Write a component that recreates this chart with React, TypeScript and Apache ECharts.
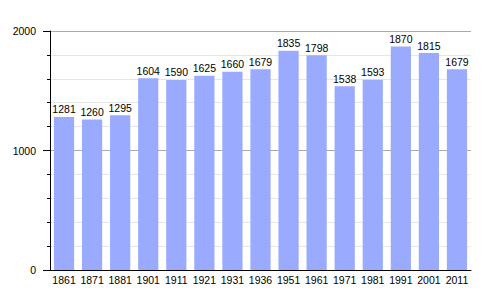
import React, { useEffect, useRef } from "react";
import * as echarts from "echarts";

const years = ["1861", "1871", "1881", "1901", "1911", "1921", "1931", "1936", "1951", "1961", "1971", "1981", "1991", "2001", "2011"];
const population = [1281, 1260, 1295, 1604, 1590, 1625, 1660, 1679, 1835, 1798, 1538, 1593, 1870, 1815, 1679];
const yTicks = [0, 1000, 2000];

const FONT = "'Liberation Sans', Arial, Helvetica, sans-serif";

export default function App() {
  const ref = useRef<HTMLDivElement>(null);
  useEffect(() => {
    const chart = echarts.init(ref.current!, null, { renderer: "svg" });
    chart.setOption({
      animation: false,
      grid: { left: 50, top: 31, right: 29, bottom: 30, containLabel: false },
      xAxis: {
        type: "category",
        data: years,
        axisLine: { lineStyle: { color: "#000", width: 1 } },
        axisTick: { show: false },
        axisLabel: { color: "#000", fontSize: 10.5, fontFamily: FONT, margin: 4, interval: 0 },
      },
      yAxis: {
        type: "value",
        min: yTicks[0],
        max: yTicks[yTicks.length - 1],
        interval: yTicks[1] - yTicks[0],
        axisLine: { show: true, lineStyle: { color: "#000", width: 1 } },
        axisTick: { show: true, length: 7, lineStyle: { color: "#000" } },
        minorTick: { show: true, splitNumber: 5, length: 3, lineStyle: { color: "#000" } },
        splitLine: { show: true, lineStyle: { color: "#aaaaaa", width: 1 } },
        minorSplitLine: { show: true, lineStyle: { color: "#e6e6e6", width: 1 } },
        axisLabel: {
          color: "#000",
          fontSize: 10.5,
          fontFamily: FONT,
          margin: 14,
          formatter: (v: number) => String(v),
        },
      },
      series: [
        {
          type: "bar",
          data: population,
          barCategoryGap: "28%",
          itemStyle: { color: "#99aaff" },
          label: {
            show: true,
            position: "top",
            distance: 2,
            color: "#000",
            fontSize: 10.5,
            fontFamily: FONT,
          },
        },
      ],
    });
    return () => chart.dispose();
  }, []);
  return <div ref={ref} style={{ width: 500, height: 300, position: "absolute", left: 0, top: 0, background: "#fff" }} />;
}
